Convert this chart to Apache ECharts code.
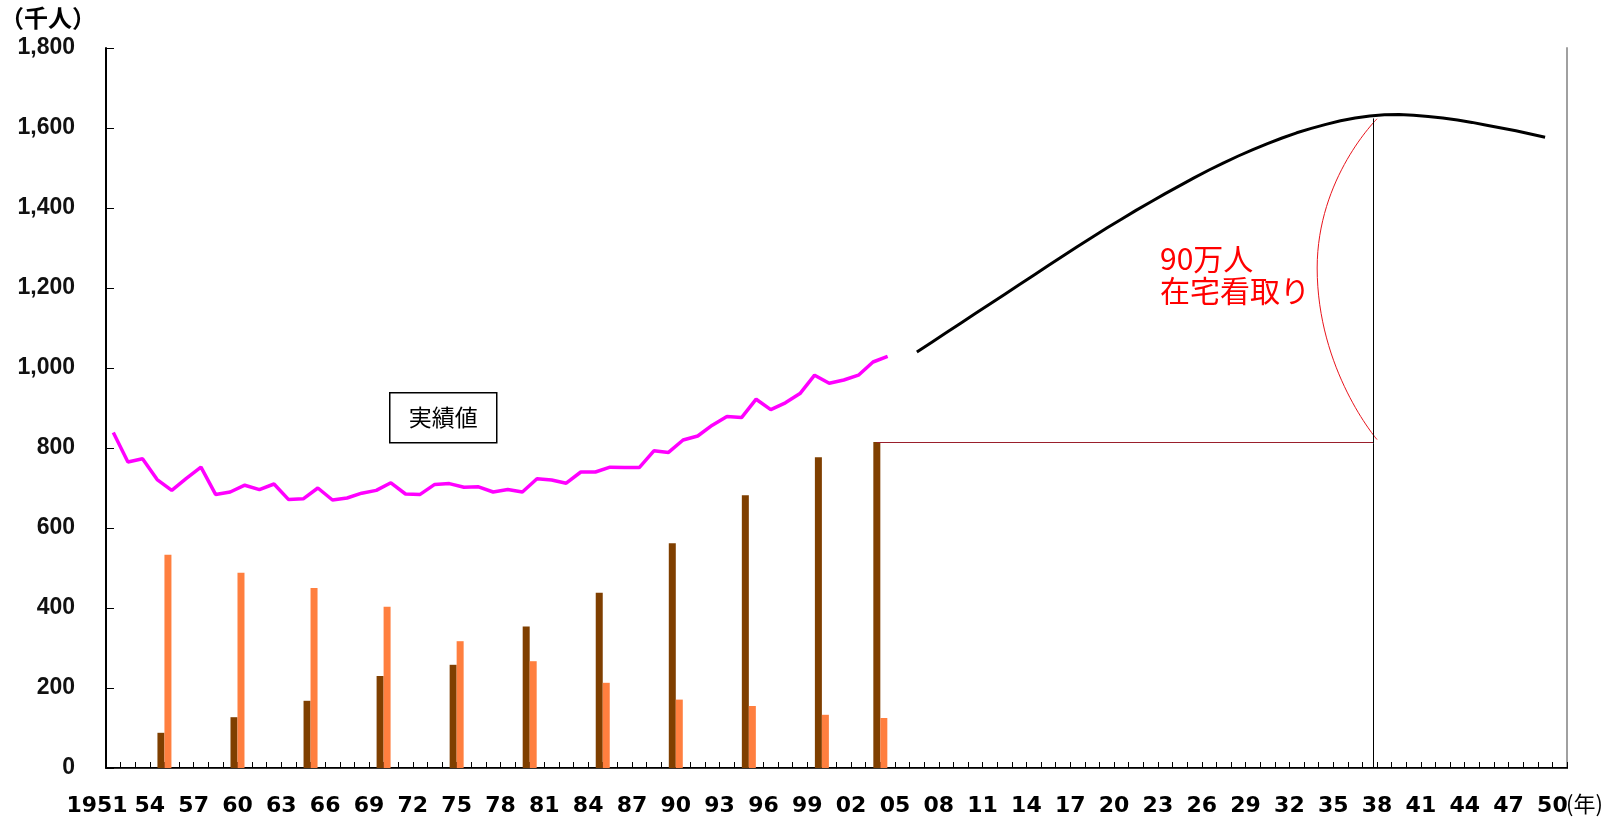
<!DOCTYPE html>
<html>
<head>
<meta charset="utf-8">
<script src="https://cdn.jsdelivr.net/npm/echarts@6/dist/echarts.min.js"></script>
<style>
html,body{margin:0;padding:0;background:#fff;}
#main{width:1624px;height:819px;}
</style>
</head>
<body>
<div id="main"></div>
<script>
// 実績値 (死亡数, 千人)
var actualYears = [1951,1952,1953,1954,1955,1956,1957,1958,1959,1960,
	1961,1962,1963,1964,1965,1966,1967,1968,1969,1970,
	1971,1972,1973,1974,1975,1976,1977,1978,1979,1980,
	1981,1982,1983,1984,1985,1986,1987,1988,1989,1990,
	1991,1992,1993,1994,1995,1996,1997,1998,1999,2000,
	2001,2002,2003,2004];
var actualDeaths = [839,765,773,721,694,724,752,684,690,707,
	696,710,671,673,700,670,675,687,694,713,
	685,684,709,711,702,703,690,696,690,723,
	720,712,740,740,752,751,751,793,789,820,
	830,857,879,876,922,896,913,936,982,962,
	970,982,1015,1029];

// 推計値
var futureYears = [2006,2007,2008,2009,2010,2011,2012,2013,2014,2015,
	2016,2017,2018,2019,2020,2021,2022,2023,2024,2025,
	2026,2027,2028,2029,2030,2031,2032,2033,2034,2035,
	2036,2037,2038,2039,2040,2041,2042,2043,2044,2045,
	2046,2047,2048,2049];
var futureDeaths = [1040,1064,1088,1112,1136,1160,1184,1208,1232,1256,
	1280,1304,1327,1350,1372,1394,1415,1436,1456,1476,
	1495,1513,1530,1546,1561,1575,1588,1599,1609,1618,
	1625,1630,1633,1634,1632,1629,1625,1620,1614,1607,
	1600,1593,1585,1577];

// 死亡場所 (棒)
var barYears = [1955,1960,1965,1970,1975,1980,1985,1990,1995,2000,2004];
var hospitalDeaths = [88,127,168,230,258,354,438,562,682,777,815];
var homeDeaths = [533,488,450,403,317,267,213,171,155,133,125];

// 注記
var markYear = 2038;
var markLow = 815;
var markHigh = 1624;
var bracketBulge = [2033.9, 1250];

var yTicks = {min: 0, max: 1800, step: 200};
var xRange = {min: 1951, max: 2051, labelStep: 3, lastLabel: 2050};

function pair(xs, ys, shift){
	var out = [];
	for(var i=0;i<xs.length;i++){
		out.push([xs[i] + shift, ys[i]]);
	}
	return out;
}

var chart = echarts.init(document.getElementById('main'));
var option = {
	animation: false,
	backgroundColor: '#fff',
	grid: {left: 106, right: 57, top: 48, bottom: 51},
	xAxis: [{
		type: 'value',
		min: xRange.min,
		max: xRange.max,
		interval: 1,
		axisLine: {lineStyle: {color: '#000', width: 2}},
		axisTick: {inside: true, length: 6, lineStyle: {color: '#000', width: 1}},
		splitLine: {show: false},
		axisLabel: {
			margin: 27,
			color: '#000',
			fontSize: 22,
			fontWeight: 'bold',
			fontFamily: 'DejaVu Sans',
			rich: {
				first: {fontSize: 22, fontWeight: 'bold', fontFamily: 'DejaVu Sans', color: '#000', padding: [0, 18, 0, 0]}
			},
			formatter: function(v){
				if(v > xRange.lastLabel || (v - xRange.min) % xRange.labelStep !== 0){
					return '';
				}
				return v === xRange.min ? '{first|' + v + '}' : String(v).slice(2);
			}
		}
	},{
		type: 'value', position: 'top', min: xRange.min, max: xRange.max,
		axisLine: {show: true, lineStyle: {color: '#333', width: 1}},
		axisTick: {show: false}, axisLabel: {show: false}, splitLine: {show: false}
	}],
	yAxis: [{
		type: 'value',
		min: yTicks.min,
		max: yTicks.max,
		interval: yTicks.step,
		axisLine: {show: true, lineStyle: {color: '#000', width: 2}},
		axisTick: {show: true, inside: true, length: 8, lineStyle: {color: '#000', width: 1}},
		splitLine: {show: false},
		axisLabel: {
			margin: 31,
			color: '#111',
			fontSize: 23,
			fontWeight: 'bold',
			fontFamily: 'Liberation Sans',
			formatter: function(v){
				return String(v).replace(/\B(?=(\d{3})+(?!\d))/g, ',');
			}
		}
	},{
		type: 'value', position: 'right', min: yTicks.min, max: yTicks.max,
		axisLine: {show: true, lineStyle: {color: '#a0a0a0', width: 2}},
		axisTick: {show: false}, axisLabel: {show: false}, splitLine: {show: false}
	}],
	series: [{
		name: '病院',
		type: 'bar',
		barWidth: 7,
		barGap: '0%',
		itemStyle: {color: '#7f3f00'},
		data: pair(barYears, hospitalDeaths, 0),
		markLine: {
			symbol: 'none',
			silent: true,
			label: {show: false},
			data: [
				[{coord: [barYears[barYears.length-1], markLow], lineStyle: {color: '#9a1f2c', width: 1.2, type: 'solid'}},
				 {coord: [markYear, markLow]}],
				[{coord: [markYear, 0], lineStyle: {color: '#000', width: 1, type: 'solid'}},
				 {coord: [markYear, markHigh]}]
			]
		}
	},{
		name: '自宅',
		type: 'bar',
		barWidth: 7,
		barGap: '0%',
		itemStyle: {color: '#ff7f3f'},
		data: pair(barYears, homeDeaths, 0)
	},{
		// 各年の値は年の中央に置く
		name: '実績値',
		type: 'line',
		showSymbol: false,
		z: 5,
		lineStyle: {color: '#ff00ff', width: 3.5},
		data: pair(actualYears, actualDeaths, 0.5)
	},{
		name: '推計値',
		type: 'line',
		showSymbol: false,
		z: 5,
		lineStyle: {color: '#000', width: 3},
		data: pair(futureYears, futureDeaths, 0.5)
	},{
		name: '在宅看取り',
		type: 'line',
		showSymbol: false,
		smooth: 0.6,
		z: 4,
		lineStyle: {color: '#e8141c', width: 1},
		data: [[markYear, markHigh - 1], bracketBulge, [markYear, markLow + 6]]
	}],
	graphic: [{
		type: 'text', left: 0, top: 6,
		style: {text: '（千人）', fontSize: 24, fontWeight: 'bold', fill: '#000', fontFamily: 'Noto Sans CJK JP'}
	},{
		type: 'text', left: 1566, top: 793,
		style: {text: '(年)', fontSize: 22, fill: '#000', fontFamily: 'Noto Sans CJK JP'}
	},{
		type: 'group', left: 389, top: 392,
		children: [{
			type: 'rect', shape: {x: 0, y: 0, width: 107, height: 50},
			style: {fill: '#fff', stroke: '#000', lineWidth: 1.5}
		},{
			type: 'text', x: 53.5, y: 25,
			style: {text: '実績値', fontSize: 23, fill: '#000', align: 'center', verticalAlign: 'middle', fontFamily: 'Noto Sans CJK JP'}
		}]
	},{
		type: 'text', left: 1160, top: 243,
		style: {text: '90万人\n在宅看取り', fontSize: 30, lineHeight: 32, fill: '#ff0000', fontFamily: 'Noto Sans CJK JP'}
	}]
};
chart.setOption(option);
</script>
</body>
</html>
